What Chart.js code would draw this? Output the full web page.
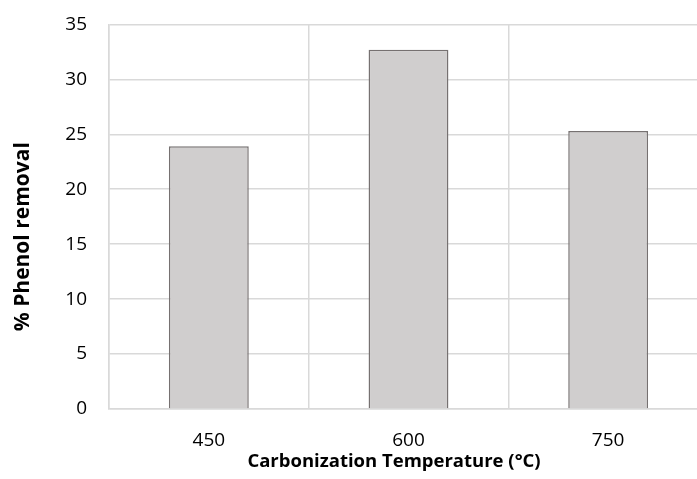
<!DOCTYPE html>
<html><head><meta charset="utf-8">
<script src="https://cdn.jsdelivr.net/npm/chart.js@4"></script>
<style>html,body{margin:0;padding:0;overflow:hidden;background:#fff;width:697px;height:479px}#wrap{width:712px;height:488px;margin-top:-9px}</style>
</head><body><div id="wrap"><canvas id="c" width="712" height="488"></canvas></div>
<script>
const categories = ["450", "600", "750"];
const phenolRemoval = [23.9, 32.7, 25.3];
const yTicks = [0, 5, 10, 15, 20, 25, 30, 35];
const xTitle = "Carbonization Temperature (°C)";
const yTitle = "% Phenol removal";
const FONT = "'Open Sans', 'Liberation Sans', sans-serif";
const axisTitles = {
  id: 'axisTitles',
  afterDraw(chart) {
    const ctx = chart.ctx, ca = chart.chartArea;
    ctx.save();
    ctx.fillStyle = '#000';
    ctx.textAlign = 'center';
    ctx.textBaseline = 'middle';
    ctx.font = "bold 18.5px " + FONT;
    ctx.fillText(xTitle, ca.left + 285, ca.bottom + 53);
    ctx.translate(23, (ca.top + ca.bottom) / 2 + 20);
    ctx.rotate(-Math.PI / 2);
    ctx.font = "bold 21px " + FONT;
    ctx.fillText(yTitle, 0, 0);
    ctx.restore();
  }
};
new Chart(document.getElementById('c'), {
  type: 'bar',
  data: { labels: categories, datasets: [{ data: phenolRemoval, backgroundColor: '#d0cece', borderColor: '#767171', borderWidth: 1.5, barPercentage: 0.8, categoryPercentage: 0.5 }] },
  options: {
    responsive: false, animation: false,
    layout: { padding: { top: 12, right: 4, left: 0, bottom: 0 } },
    plugins: { legend: { display: false }, tooltip: { enabled: false } },
    scales: {
      x: {
        grid: { color: '#d9d9d9', lineWidth: 1.5, offset: true, drawTicks: false },
        border: { color: '#d9d9d9', width: 1.5 },
        ticks: { color: '#000', font: { family: FONT, size: 19 }, padding: 20 },
        afterFit: s => { s.height = 70; }
      },
      y: {
        min: 0, max: 35,
        afterBuildTicks: s => { s.ticks = yTicks.map(v => ({ value: v })); },
        grid: { color: '#d9d9d9', lineWidth: 1.5, drawTicks: false },
        border: { color: '#d9d9d9', width: 1.5 },
        ticks: { color: '#000', font: { family: FONT, size: 19 }, padding: 22 },
        afterFit: s => { s.width = 109; }
      }
    }
  },
  plugins: [axisTitles]
});
</script></body></html>
